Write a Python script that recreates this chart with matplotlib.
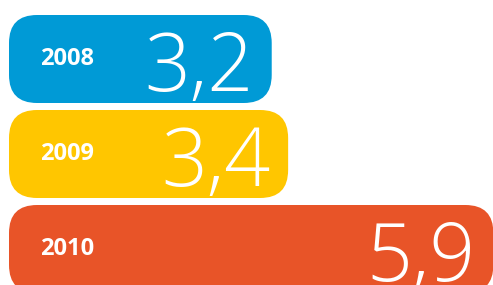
import matplotlib.pyplot as plt
from matplotlib.patches import FancyBboxPatch

# data
years = ['2008', '2009', '2010']
values = [3.2, 3.4, 5.9]
labels = ['3,2', '3,4', '5,9']
colors = ['#009AD6', '#FFC600', '#E85428']

W, H = 493, 285
fig = plt.figure(figsize=(W / 100, H / 100), dpi=100)
ax = fig.add_axes([0, 0, 1, 1])

# pixels per unit on each axis
px_x = 82.1
px_y = 95.0
ax.set_xlim(-9 / px_x, (W - 9) / px_x)
ax.set_ylim((H - 59) / px_y, -59 / px_y)
ax.axis('off')

bar_h = 88 / px_y
radius = 28 / px_x

for i, (yr, v, lab, c) in enumerate(zip(years, values, labels, colors)):
    box = FancyBboxPatch((0, i - bar_h / 2), v, bar_h,
                         boxstyle=f'round,pad=0,rounding_size={radius}',
                         mutation_aspect=px_x / px_y,
                         fc=c, ec='none')
    ax.add_patch(box)
    ax.annotate(yr, (0, i), xytext=(22, 0), textcoords='offset points',
                ha='left', va='center', color='white', fontsize=17,
                fontweight='bold', family='Open Sans')
    ax.annotate(lab, (v, i), xytext=(-13, -23), textcoords='offset points',
                ha='right', va='baseline', color='white', fontsize=58,
                fontweight='light', family='Open Sans')

fig.savefig('out.png', dpi=100)
